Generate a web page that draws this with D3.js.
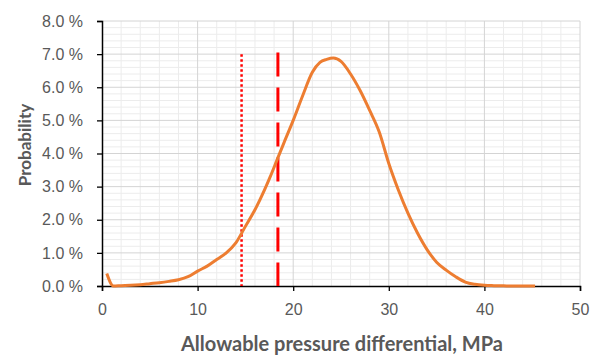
<!DOCTYPE html>
<html>
<head>
<meta charset="utf-8">
<script src="https://cdn.jsdelivr.net/npm/d3@7"></script>
<style>
  body { margin: 0; background: #fff; }
  svg { display: block; }
</style>
</head>
<body>
<div id="chart"></div>
<script>
// pressure differential (MPa) and probability (%)
const pressure = [0.5, 1.2, 2, 3, 4, 5, 6, 7, 8, 9, 10, 11, 12, 13, 14, 15, 16, 17, 17.6, 18.3,
  19, 20, 21, 22, 22.8, 23.5, 24.2, 25, 26, 27, 28, 29, 30, 31, 32, 33, 34, 35, 36, 37, 38, 39, 40, 41, 42, 43, 44, 45.3];
const probability = [0.38, 0.0, 0.01, 0.02, 0.04, 0.07, 0.1, 0.14, 0.19, 0.28, 0.45, 0.6, 0.8, 1.0, 1.3, 1.8, 2.3, 2.9, 3.3, 3.8,
  4.3, 5.0, 5.75, 6.45, 6.75, 6.84, 6.88, 6.78, 6.4, 5.9, 5.3, 4.65, 3.7, 2.9, 2.2, 1.6, 1.1, 0.72, 0.48, 0.28, 0.12, 0.05, 0.02, 0.01, 0.005, 0, 0, 0];

const xTicks = [0, 10, 20, 30, 40, 50];
const yTicks = [0, 1, 2, 3, 4, 5, 6, 7, 8];

// reference lines: [pressure, top %]
const dottedLine = [14.6, 7.0];
const dashedLine = [18.4, 7.05];

const width = 597, height = 356;
const margin = { left: 102, right: 17, top: 21, bottom: 70 };

const x = d3.scaleLinear().domain([0, 50]).range([margin.left, width - margin.right]);
const y = d3.scaleLinear().domain([0, 8]).range([height - margin.bottom, margin.top]);

const svg = d3.select("#chart").append("svg")
  .attr("width", width)
  .attr("height", height)
  .style("font-family", "Lato, 'Open Sans', sans-serif");

// minor grid
const grid = svg.append("g");
grid.selectAll("line.vminor")
  .data(d3.range(2, 50, 2).filter(v => v % 10 !== 0))
  .join("line")
  .attr("x1", d => x(d)).attr("x2", d => x(d))
  .attr("y1", y(8)).attr("y2", y(0))
  .attr("stroke", "#ececec").attr("stroke-width", 1);
grid.selectAll("line.hminor")
  .data(d3.range(0.2, 8, 0.2).filter(v => Math.abs(v - Math.round(v)) > 0.01))
  .join("line")
  .attr("x1", x(0)).attr("x2", x(50))
  .attr("y1", d => y(d)).attr("y2", d => y(d))
  .attr("stroke", "#ececec").attr("stroke-width", 1);

// major grid
grid.selectAll("line.vmajor")
  .data(xTicks.slice(1))
  .join("line")
  .attr("x1", d => x(d)).attr("x2", d => x(d))
  .attr("y1", y(8)).attr("y2", y(0))
  .attr("stroke", "#d4d4d4").attr("stroke-width", 1);
grid.selectAll("line.hmajor")
  .data(yTicks.slice(1))
  .join("line")
  .attr("x1", x(0)).attr("x2", x(50))
  .attr("y1", d => y(d)).attr("y2", d => y(d))
  .attr("stroke", "#d4d4d4").attr("stroke-width", 1);

// axes
const yAxis = svg.append("g")
  .attr("transform", `translate(${x(0)},0)`)
  .call(d3.axisLeft(y).tickValues(yTicks).tickSize(5).tickPadding(14)
    .tickFormat(d => d3.format(".1f")(d) + " %"));
const xAxis = svg.append("g")
  .attr("transform", `translate(0,${y(0)})`)
  .call(d3.axisBottom(x).tickValues(xTicks).tickSize(5).tickPadding(13));

[xAxis, yAxis].forEach(a => {
  a.select(".domain").attr("stroke", "#000").attr("stroke-width", 1.5);
  a.selectAll(".tick line").attr("stroke", "#000").attr("stroke-width", 1.3);
  a.selectAll(".tick text").attr("fill", "#595959").attr("font-size", 16);
});

// reference lines
svg.append("line")
  .attr("x1", x(dottedLine[0])).attr("x2", x(dottedLine[0]))
  .attr("y1", y(dottedLine[1])).attr("y2", y(0))
  .attr("stroke", "#ff0000").attr("stroke-width", 2.5)
  .attr("stroke-dasharray", "2.5,2.5");
svg.append("line")
  .attr("x1", x(dashedLine[0])).attr("x2", x(dashedLine[0]))
  .attr("y1", y(dashedLine[1])).attr("y2", y(0))
  .attr("stroke", "#ff0000").attr("stroke-width", 3)
  .attr("stroke-dasharray", "24,11");

// probability curve
const line = d3.line()
  .x((d, i) => x(pressure[i]))
  .y(d => y(d))
  .curve(d3.curveMonotoneX);
svg.append("path")
  .datum(probability)
  .attr("fill", "none")
  .attr("stroke", "#ed7d31")
  .attr("stroke-width", 3)
  .attr("stroke-linejoin", "round")
  .attr("d", line);

// axis titles
svg.append("text")
  .attr("x", 342)
  .attr("y", 351)
  .attr("text-anchor", "middle")
  .attr("font-size", 20)
  .attr("font-weight", "bold")
  .attr("fill", "#595959")
  .text("Allowable pressure differential, MPa");
svg.append("text")
  .attr("transform", `translate(31,145) rotate(-90)`)
  .attr("text-anchor", "middle")
  .attr("font-size", 17)
  .attr("font-weight", "bold")
  .attr("fill", "#595959")
  .text("Probability");
</script>
</body>
</html>
